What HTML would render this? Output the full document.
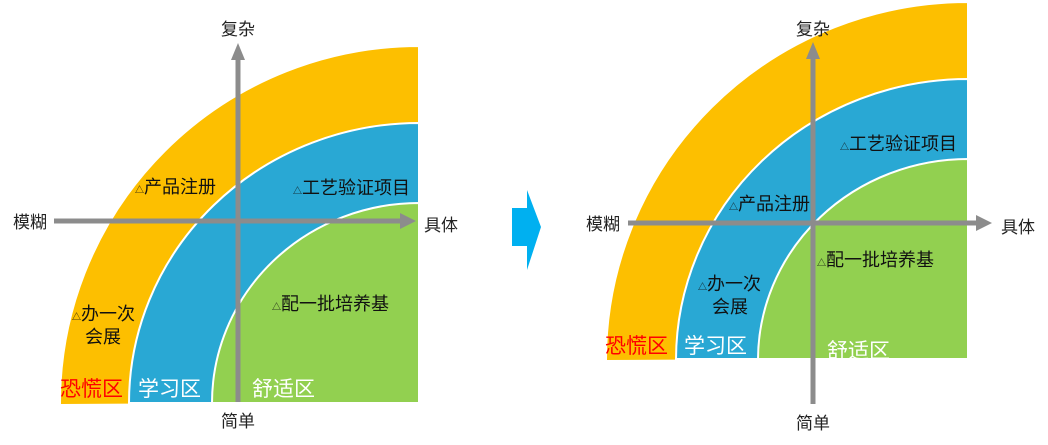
<!DOCTYPE html>
<html><head><meta charset="utf-8"><style>
html,body{margin:0;padding:0;background:#fff;}
svg{display:block;}
text{font-family:"Liberation Sans","Noto Sans CJK SC",sans-serif;}
</style></head><body>
<svg width="1048" height="445" viewBox="0 0 1048 445" xmlns="http://www.w3.org/2000/svg">
<g stroke="#fff" stroke-width="2">
<path d="M60,405 A359 357 0 0 1 419,46 L419,403 Z" fill="#fdbf00"/>
<path d="M129,403 A290 280 0 0 1 419,123 L419,403 Z" fill="#29a8d4"/>
<path d="M212,403 A207 200 0 0 1 419,203 L419,403 Z" fill="#92d050"/>
<path d="M606,361 A362 358 0 0 1 968,2 L968,359 Z" fill="#fdbf00"/>
<path d="M676,359 A292 281 0 0 1 968,79 L968,359 Z" fill="#29a8d4"/>
<path d="M758,359 A210 201 0 0 1 968,159 L968,359 Z" fill="#92d050"/>
</g>
<g stroke="#8c8c8c" stroke-width="5" fill="none">
<line x1="238" y1="402" x2="238" y2="60"/>
<line x1="54" y1="221" x2="402" y2="221"/>
<line x1="813" y1="404" x2="813" y2="58"/>
<line x1="628" y1="223" x2="978" y2="223"/>
</g>
<g fill="#8c8c8c">
<polygon points="238,43 231,60 245,60"/>
<polygon points="416,221 400,213 400,229"/>
<polygon points="813,42 806,59 820,59"/>
<polygon points="992,223 976,215 976,231"/>
</g>
<polygon points="512,208 527,208 527,190 541,227 527,270 527,246 512,246" fill="#00b0f0"/>
<g font-size="17" fill="#222" text-anchor="middle">
<text x="238" y="35">复杂</text>
<text x="238" y="427">简单</text>
<text x="30" y="228">模糊</text>
<text x="441" y="231">具体</text>
<text x="813" y="35">复杂</text>
<text x="813" y="429">简单</text>
<text x="603" y="230">模糊</text>
<text x="1018" y="233">具体</text>
</g>
<g font-size="18" fill="#111">
<text x="135" y="193"><tspan font-size="9">△</tspan>产品注册</text>
<text x="293" y="194"><tspan font-size="9">△</tspan>工艺验证项目</text>
<text x="72" y="320"><tspan font-size="9">△</tspan>办一次</text>
<text x="85" y="343">会展</text>
<text x="272" y="310"><tspan font-size="9">△</tspan>配一批培养基</text>
<text x="840" y="150"><tspan font-size="9">△</tspan>工艺验证项目</text>
<text x="729" y="210"><tspan font-size="9">△</tspan>产品注册</text>
<text x="698" y="290"><tspan font-size="9">△</tspan>办一次</text>
<text x="712" y="313">会展</text>
<text x="817" y="266"><tspan font-size="9">△</tspan>配一批培养基</text>
</g>
<g font-size="21">
<text x="60" y="396" fill="#ff0000">恐慌区</text>
<text x="138" y="396" fill="#fff">学习区</text>
<text x="252" y="396" fill="#fff">舒适区</text>
<text x="605" y="353" fill="#ff0000">恐慌区</text>
<text x="684" y="353" fill="#fff">学习区</text>
<text x="827" y="358" fill="#fff">舒适区</text>
</g>
</svg>
</body></html>
